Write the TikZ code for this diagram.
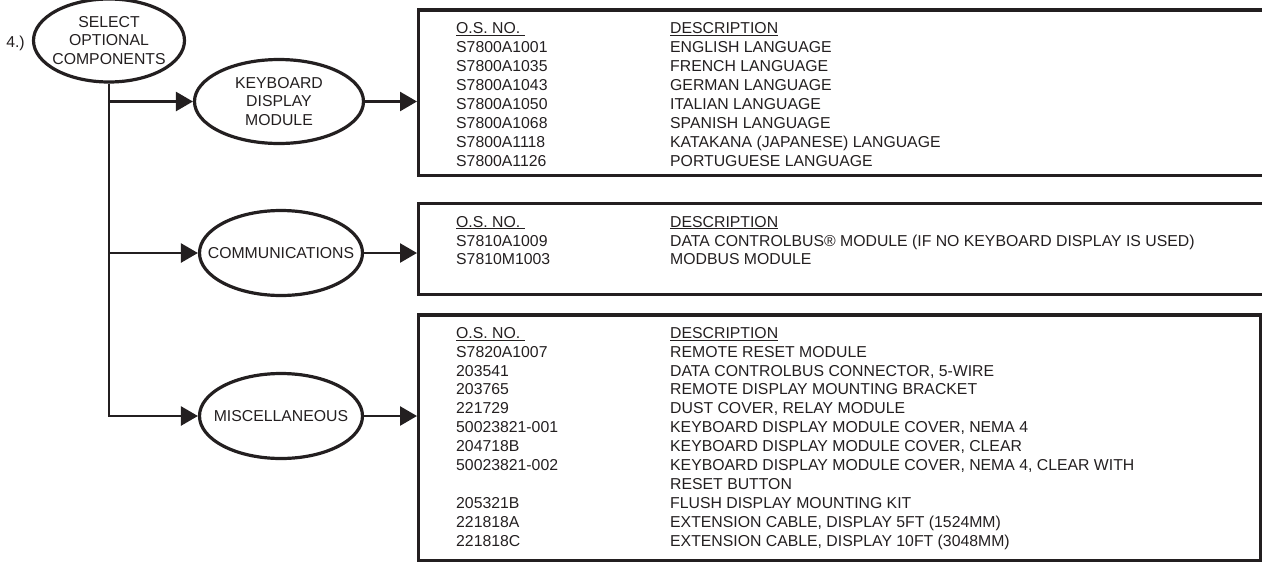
\documentclass[tikz,border=0pt]{standalone}
\usepackage{fontspec}
\setmainfont{Liberation Sans}
\usepackage{array}
\usetikzlibrary{arrows.meta, positioning, shapes.geometric}
\definecolor{InkBlack}{RGB}{35, 31, 32}

\newcommand{\partfont}{\fontsize{15.8}{18.9}\selectfont}

\begin{document}
\begin{tikzpicture}[
    x=1pt, y=-1pt,
    every node/.style={text=InkBlack},
    choice/.style={
        ellipse, draw=InkBlack, line width=3.2pt,
        inner xsep=-20pt, inner ysep=0pt,
        minimum width=163pt, minimum height=85pt,
        align=center, font=\partfont
    },
    listbox/.style={
        rectangle, draw=InkBlack, line width=3.2pt, anchor=north west,
        minimum width=880pt, inner sep=0pt
    },
    listtext/.style={anchor=north west, inner sep=0pt, font=\partfont},
    arr/.style={-{Triangle[length=17pt, width=19pt]}, line width=2.6pt, color=InkBlack}
]
\useasboundingbox (0,0) rectangle (1262,563);

\node[choice, minimum width=151pt, minimum height=83pt] (sel) at (109,40.5)
    {SELECT\\OPTIONAL\\COMPONENTS};
\node[font=\partfont, inner sep=0pt, left=7pt of sel, yshift=-3pt] (num) {4.)};

\node[choice, minimum width=169pt, minimum height=84pt] (kdm) at (279,101.5)
    {KEYBOARD\\DISPLAY\\MODULE};
\node[choice] (comm) at (281,253) {COMMUNICATIONS};
\node[choice] (misc) at (281,416) {MISCELLANEOUS};

% part lists
\node[listbox, minimum height=165.2pt] (kbdbox) at (417,8.3) {};
\node[listtext, below right=12pt and 39pt of kbdbox.north west] (kbdlist) {%
    \begin{tabular}{@{}p{214pt}@{}l@{}}
    \underline{O.S. NO.\ } & \underline{DESCRIPTION}\\
    S7800A1001 & ENGLISH LANGUAGE\\
    S7800A1035 & FRENCH LANGUAGE\\
    S7800A1043 & GERMAN LANGUAGE\\
    S7800A1050 & ITALIAN LANGUAGE\\
    S7800A1068 & SPANISH LANGUAGE\\
    S7800A1118 & KATAKANA (JAPANESE) LANGUAGE\\
    S7800A1126 & PORTUGUESE LANGUAGE
    \end{tabular}};

\node[listbox, minimum height=91.1pt] (commbox) at (417,201.7) {};
\node[listtext, below right=12pt and 39pt of commbox.north west] (commlist) {%
    \begin{tabular}{@{}p{214pt}@{}l@{}}
    \underline{O.S. NO.\ } & \underline{DESCRIPTION}\\
    S7810A1009 & DATA CONTROLBUS® MODULE (IF NO KEYBOARD DISPLAY IS USED)\\
    S7810M1003 & MODBUS MODULE
    \end{tabular}};

\node[listbox, minimum width=842.4pt, minimum height=245.5pt] (miscbox) at (417,313.3) {};
\node[listtext, below right=11.5pt and 39pt of miscbox.north west] (misclist) {%
    \begin{tabular}{@{}p{214pt}@{}l@{}}
    \underline{O.S. NO.\ } & \underline{DESCRIPTION}\\
    S7820A1007 & REMOTE RESET MODULE\\
    203541 & DATA CONTROLBUS CONNECTOR, 5-WIRE\\
    203765 & REMOTE DISPLAY MOUNTING BRACKET\\
    221729 & DUST COVER, RELAY MODULE\\
    50023821-001 & KEYBOARD DISPLAY MODULE COVER, NEMA 4\\
    204718B & KEYBOARD DISPLAY MODULE COVER, CLEAR\\
    50023821-002 & KEYBOARD DISPLAY MODULE COVER, NEMA 4, CLEAR WITH\\
     & RESET BUTTON\\
    205321B & FLUSH DISPLAY MOUNTING KIT\\
    221818A & EXTENSION CABLE, DISPLAY 5FT (1524MM)\\
    221818C & EXTENSION CABLE, DISPLAY 10FT (3048MM)
    \end{tabular}};

\draw[arr] (sel.south) |- (kdm.west);
\draw[arr] (sel.south) |- (comm.west);
\draw[arr] (sel.south) |- (misc.west);
\draw[arr] (kdm.east) -- (kdm.east -| kbdbox.west);
\draw[arr] (comm.east) -- (comm.east -| commbox.west);
\draw[arr] (misc.east) -- (misc.east -| miscbox.west);

\end{tikzpicture}
\end{document}
